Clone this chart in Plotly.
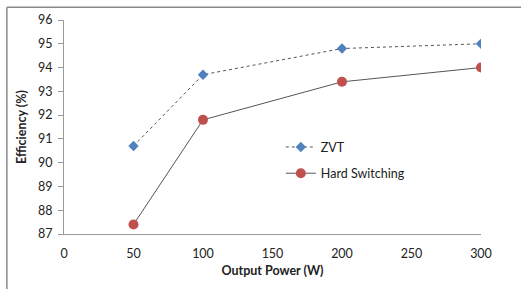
import plotly.graph_objects as go

power = [50, 100, 200, 300]
zvt = [90.7, 93.7, 94.8, 95.0]
hard = [87.4, 91.8, 93.4, 94.0]
x_ticks = [0, 50, 100, 150, 200, 250, 300]
y_ticks = [87, 88, 89, 90, 91, 92, 93, 94, 95, 96]

fig = go.Figure()
fig.add_trace(go.Scatter(
    x=power, y=zvt, name="ZVT", mode="lines+markers", legendgroup="a",
    line=dict(color="#555555", width=1, dash="dot"),
    marker=dict(symbol="diamond", size=8, color="#4F81BD"),
))
fig.add_trace(go.Scatter(
    x=power, y=hard, name="Hard Switching", mode="lines+markers", legendgroup="b",
    line=dict(color="#555555", width=1),
    marker=dict(symbol="circle", size=10, color="#C0504D"),
))

font_family = "Lato, Open Sans, sans-serif"
fig.update_layout(
    width=521, height=289,
    margin=dict(l=64, r=40, t=15, b=55),
    paper_bgcolor="white", plot_bgcolor="white",
    font=dict(family=font_family, size=12.5, color="#222"),
    showlegend=True,
    legend=dict(x=0.52, y=0.475, xanchor="left", yanchor="top",
                bgcolor="rgba(0,0,0,0)", font=dict(size=12.5),
                itemwidth=30, tracegroupgap=7),
    xaxis=dict(range=[0, 300], tickvals=x_ticks, showgrid=False, zeroline=False,
               showline=True, linecolor="#9a9a9a", linewidth=1, ticks="outside",
               ticklen=8, tickcolor="rgba(0,0,0,0)",
               title=dict(text="<b>Output Power (W)</b>", font=dict(size=12.5), standoff=6)),
    yaxis=dict(range=[87, 96], tickvals=y_ticks, showgrid=False, zeroline=False,
               showline=True, linecolor="#9a9a9a", linewidth=1, ticks="outside",
               ticklen=5, tickcolor="#9a9a9a", ticklabelstandoff=3,
               title=dict(text="<b>Efficiency (%)</b>", font=dict(size=12.5), standoff=8)),
    shapes=[
        dict(type="line", xref="paper", yref="paper", x0=-0.137, x1=-0.137,
             y0=-0.3, y1=1.059, line=dict(color="#8a8a8a", width=1.5)),
        dict(type="line", xref="paper", yref="paper", x0=-0.137, x1=1.2,
             y0=1.059, y1=1.059, line=dict(color="#8a8a8a", width=1.5)),
    ],
)
fig.write_html("out.html", config={"displayModeBar": False},
               post_script="document.body.style.margin='0';")
